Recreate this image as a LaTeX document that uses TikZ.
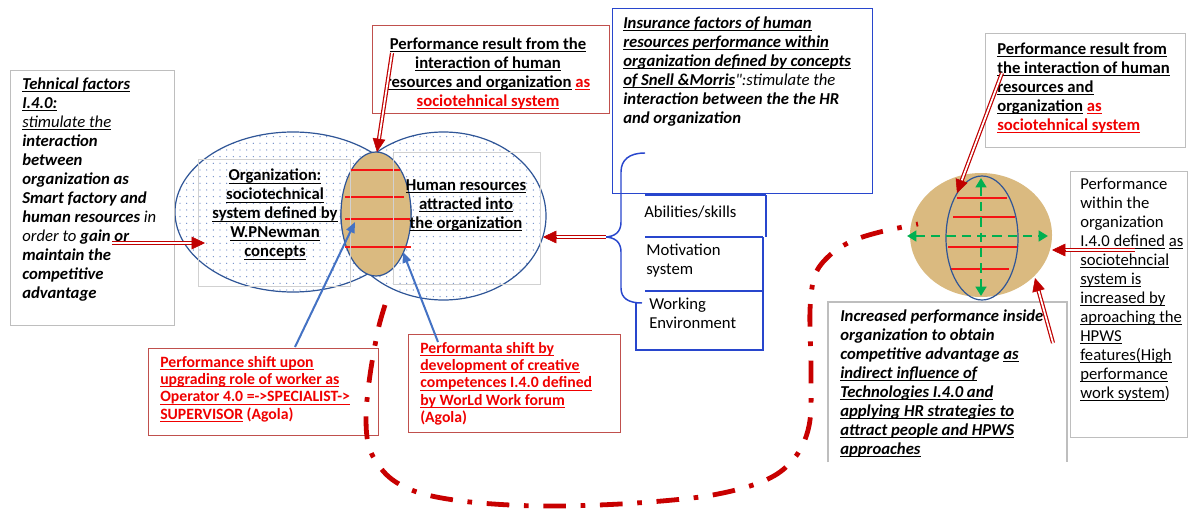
\documentclass[tikz,border=0pt]{standalone}
\usepackage{fontspec}
\setmainfont{Carlito}
\usetikzlibrary{arrows.meta,patterns.meta,calc}
\definecolor{accred}{RGB}{192,80,77}
\definecolor{darkred}{RGB}{192,0,0}
\definecolor{loopred}{RGB}{200,0,0}
\definecolor{txtred}{RGB}{240,0,0}
\definecolor{linered}{RGB}{245,20,20}
\definecolor{boxblue}{RGB}{40,70,205}
\definecolor{ellblue}{RGB}{47,85,151}
\definecolor{arrblue}{RGB}{68,114,196}
\definecolor{dotblue}{RGB}{110,140,200}
\definecolor{parch}{RGB}{218,186,128}
\definecolor{boxgray}{RGB}{190,190,190}
\definecolor{grn}{RGB}{0,176,80}
% underline with a fixed offset below the baseline
\newsavebox{\ulbox}
\newcommand{\uln}[1]{\leavevmode\sbox{\ulbox}{#1}\rlap{\rule[-1.8pt]{\wd\ulbox}{0.65pt}}\usebox{\ulbox}}
\newcommand{\redul}[1]{\textcolor{txtred}{\uln{#1}}}
% straight double quote, without TeX quote mapping
\newcommand{\straightquote}{{\addfontfeature{Ligatures=TeXOff}"}}
% double-line red arrow: hollow shaft plus a solid head
\newcommand{\redarrow}[2]{%
  \draw[dblshaft, shorten >=8pt] (#1) -- (#2);
  \draw[darkred, line width=0.4pt, -{Triangle[length=10pt,width=9.5pt]}] ($(#2)!10pt!(#1)$) -- (#2);}
\begin{document}
\begin{tikzpicture}[x=0.75pt,y=-0.75pt,
  txt/.style={inner sep=0pt, anchor=north west, align=left, font=\fontsize{12.5}{14.25}\selectfont},
  txtb/.style={txt, font=\fontsize{12.5}{14.25}\selectfont\bfseries},
  txtbi/.style={txt, font=\fontsize{12.5}{14.2}\selectfont\bfseries\itshape},
  txtr/.style={txt, font=\fontsize{11.8}{13}\selectfont\bfseries, text=txtred},
  gbox/.style={draw=boxgray, line width=0.8pt, inner sep=0pt, anchor=north west},
  rbox/.style={draw=accred, line width=1.1pt, inner sep=0pt, anchor=north west},
  bbox/.style={draw=boxblue, line width=1.1pt, inner sep=0pt, anchor=north west},
  dblshaft/.style={draw=darkred, double=white, double distance=1.3pt, line width=0.9pt},
  bluearrow/.style={arrblue, line width=1.5pt, -{Triangle[length=8pt,width=6.5pt]}},
  grnarrow/.style={grn, line width=2.2pt, dash pattern=on 7pt off 4.5pt,
    {Triangle[length=7pt,width=8pt]}-{Triangle[length=7pt,width=8pt]}},
  redline/.style={linered, line width=1.6pt},
  dotfill/.style={pattern={Dots[distance=5pt,radius=0.5pt]}, pattern color=dotblue},
]
\useasboundingbox (0,0) rectangle (1194,510);
\fill[white] (0,0) rectangle (1194,510);

% ---------- Venn diagram: organization and human resources ----------
\coordinate (orgc) at (293,212);
\coordinate (hrc) at (443.5,216);
\coordinate (lensc) at (376,214);
\fill[dotfill] (orgc) ellipse [x radius=118, y radius=80];
\fill[dotfill] (hrc) ellipse [x radius=102.5, y radius=84];
\draw[ellblue, line width=0.9pt] (orgc) ellipse [x radius=118, y radius=80];
\draw[ellblue, line width=0.9pt] (hrc) ellipse [x radius=102.5, y radius=84];
\filldraw[fill=parch, draw=ellblue, line width=0.9pt] (lensc) ellipse [x radius=35, y radius=62];
\draw[redline] (350,170) -- (400,170);
\draw[redline] (345,197) -- (404,197);
\draw[redline] (345,219) -- (410,219);
\draw[redline] (345,247) -- (411,247);
\node[gbox, draw=boxgray!70, minimum width=114pt, minimum height=95.25pt] (orgrect) at (198,159) {};
\node[gbox, draw=boxgray!70, minimum width=110.25pt, minimum height=99pt] (hrrect) at (393,152) {};
\node[txtb, anchor=north, align=center] (orgtxt) at (275,169)
  {\uln{Organization:}\\ \uln{sociotechnical}\\ \uln{system defined by}\\ \uln{W.PNewman}\\ \uln{concepts}};
\node[txtb, anchor=north, align=center] (hrtxt) at (466,179)
  {\uln{Human resources}\\ \uln{attracted into}\\ \uln{the organization}};

% ---------- technical factors ----------
\node[gbox, minimum width=123pt, minimum height=191.25pt] (techbox) at (10,70) {};
\node[txtbi] (techtxt) at (22,78) {%
  \uln{Tehnical factors}\\
  \uln{I.4.0:}\\
  {\mdseries\uln{stimulate the}}\\
  interaction\\
  between\\
  organization as\\
  Smart factory and\\
  human resources {\mdseries in}\\
  {\mdseries order to} gain or\\
  maintain the\\
  competitive\\
  advantage};

% ---------- performance result (centre) ----------
\node[rbox, minimum width=177.75pt, minimum height=66pt] (perfbox) at (372,25) {};
\node[txtb, anchor=north, align=center] (perftxt) at (488,38)
  {\uln{Performance result from the}\\ \uln{interaction of human}\\
   \uln{resources and organization} \redul{as}\\ \redul{sociotehnical system}};

% ---------- insurance factors ----------
\node[bbox, minimum width=195pt, minimum height=138.75pt] (insbox) at (612,8) {};
\node[txtbi] (instxt) at (623,17) {%
  \uln{Insurance factors of human}\\
  \uln{resources performance within}\\
  \uln{organization defined by concepts}\\
  \uln{of Snell \&Morris}{\mdseries\straightquote:stimulate the}\\
  interaction between the the HR\\
  and organization};

% ---------- HR factor list with brace ----------
\draw[boxblue, line width=1.1pt] (645,153) .. controls (629,153) and (621,160) .. (621,172)
  -- (621,222) .. controls (621,232) and (615,237) .. (604,237)
  .. controls (615,237) and (621,242) .. (621,252) -- (621,288)
  .. controls (621,298) and (628,303) .. (642,303);
\draw[boxblue, line width=1.8pt] (645,195) -- (766,195);
\draw[boxblue, line width=1.8pt] (645,237) -- (763,237);
\draw[boxblue, line width=1.8pt] (645,291) -- (763,291);
\draw[boxblue, line width=1.1pt] (766,195) -- (766,237);
\draw[boxblue, line width=1.1pt] (763,237) -- (763,291);
\draw[boxblue, line width=1.1pt] (763,291) -- (763,350) -- (636,350) -- (636,303);
\node[txt, anchor=west] (abil) at (644,212) {Abilities/skills};
\node[txt] (motiv) at (646,244) {Motivation\\system};
\node[txt] (work) at (649,298) {Working\\Environment};

% ---------- performance shift boxes ----------
\node[rbox, minimum width=172.5pt, minimum height=65.25pt] (shiftA) at (148,348) {};
\node[txtr] (shiftAtxt) at (160,356) {%
  \uln{Performance shift upon}\\
  \uln{upgrading role of worker as}\\
  \uln{Operator 4.0 =->SPECIALIST->}\\
  \uln{SUPERVISOR} (Agola)};
\node[rbox, minimum width=159pt, minimum height=73.5pt] (shiftB) at (408,334) {};
\node[txtr] (shiftBtxt) at (420,342) {%
  \uln{Performanta shift by}\\
  \uln{development of creative}\\
  \uln{competences I.4.0 defined}\\
  \uln{by WorLd Work forum}\\
  (Agola)};

% ---------- right-hand system ----------
\coordinate (sysc) at (981,235);
\fill[parch] (sysc) ellipse [x radius=71, y radius=62];
\draw[redline] (957,198) -- (1007,198);
\draw[redline] (953,217) -- (1015,217);
\draw[redline] (948,247) -- (1017,247);
\draw[redline] (950,269) -- (1009,269);
\draw[ellblue, line width=0.9pt] (982,238) ellipse [x radius=36, y radius=62];
\coordinate (gtop) at (981,178); \coordinate (gbot) at (981,296);
\coordinate (glft) at (907,236); \coordinate (grgt) at (1048,236);
\draw[grnarrow] (gtop) -- (gbot);
\draw[grnarrow] (glft) -- (grgt);

\node[gbox, minimum width=150pt, minimum height=85.5pt] (resbox) at (985,33) {};
\node[txtb, font=\fontsize{12.5}{14.1}\selectfont\bfseries] (restxt) at (997,43) {%
  \uln{Performance result from}\\
  \uln{the interaction of human}\\
  \uln{resources and}\\
  \uln{organization} \redul{as}\\
  \redul{sociotehnical system}};

\node[gbox, minimum width=87.75pt, minimum height=199.5pt] (withinbox) at (1070,171) {};
\node[txt] (withintxt) at (1080,178) {%
  Performance\\
  within the\\
  organization\\
  \uln{I.4.0 defined} \uln{as}\\
  \uln{sociotehncial}\\
  \uln{system is}\\
  \uln{increased by}\\
  \uln{aproaching the}\\
  \uln{HPWS}\\
  \uln{features(High}\\
  \uln{performance}\\
  \uln{work system})};

\coordinate (incA) at (828,462); \coordinate (incB) at (828,302);
\coordinate (incC) at (1067,302); \coordinate (incD) at (1067,462);
\draw[boxgray, line width=0.8pt] (incA) -- (incB) -- (incC) -- (incD);
\node[txtbi, font=\fontsize{12.5}{14.15}\selectfont\bfseries\itshape] (inctxt) at (840,310) {%
  Increased performance inside\\
  organization to obtain\\
  competitive advantage \uln{as}\\
  \uln{indirect influence of}\\
  \uln{Technologies I.4.0 and}\\
  \uln{applying HR strategies to}\\
  \uln{attract people and HPWS}\\
  \uln{approaches}};

% ---------- connectors ----------
\coordinate (la1) at (112,243); \coordinate (la2) at (205,243);
\coordinate (ta1) at (392,53);  \coordinate (ta2) at (377,152);
\coordinate (ba1) at (606,237); \coordinate (ba2) at (543,237);
\coordinate (ra1) at (1002,73); \coordinate (ra2) at (957,193);
\coordinate (pa1) at (1135,250); \coordinate (pa2) at (1052,250);
\coordinate (ua1) at (1053,343); \coordinate (ua2) at (1035,278);
\redarrow{la1}{la2}
\redarrow{ta1}{ta2}
\redarrow{ba1}{ba2}
\redarrow{ra1}{ra2}
\redarrow{pa1}{pa2}
\redarrow{ua1}{ua2}

\coordinate (sa1) at (295,347); \coordinate (sa2) at (355,222);
\coordinate (sb1) at (438,342); \coordinate (sb2) at (403,252);
\draw[bluearrow] (sa1) -- (sa2);
\draw[bluearrow] (sb1) -- (sb2);

% loop linking the Venn diagram with the right-hand system
\draw[loopred, line width=3.6pt, dash pattern=on 17pt off 11pt on 3.5pt off 11pt]
  plot[smooth, tension=0.55] coordinates {(385,305) (378,330) (370,375) (366,417)
  (370,450) (389,477) (420,493) (470,502) (540,506) (620,504) (700,497) (750,486)
  (780,472) (800,450) (810,420) (811,370) (810,310) (815,275) (830,255) (852,241)
  (880,232) (918,224)};
\end{tikzpicture}
\end{document}
